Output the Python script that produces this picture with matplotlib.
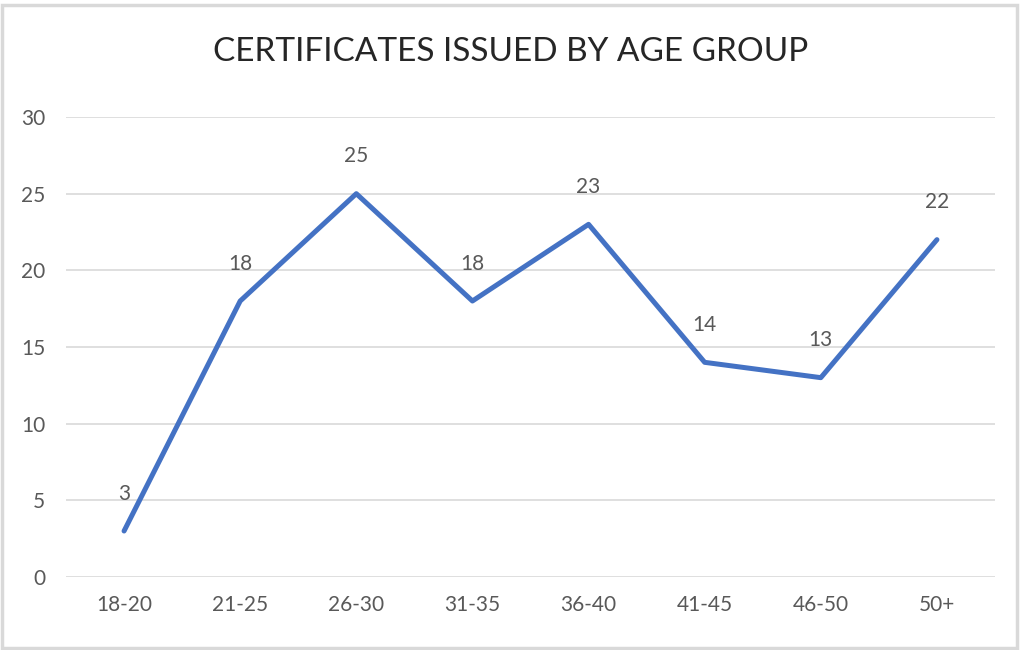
import matplotlib
matplotlib.use("Agg")
import matplotlib.pyplot as plt
from matplotlib.patches import Rectangle

categories = ["18-20", "21-25", "26-30", "31-35", "36-40", "41-45", "46-50", "50+"]
values = [3, 18, 25, 18, 23, 14, 13, 22]
yticks = [0, 5, 10, 15, 20, 25, 30]
title = "CERTIFICATES ISSUED BY AGE GROUP"

plt.rcParams['font.family'] = ['Lato', 'DejaVu Sans']
text_color = "#595959"

fig = plt.figure(figsize=(10.24, 6.5), dpi=100)
W, H = 1024, 650
ax = fig.add_axes([66 / W, 1 - 577 / H, (995 - 66) / W, (577 - 117) / H])

x = list(range(len(categories)))
ax.plot(x, values, color="#4472C4", linewidth=3.6, solid_capstyle="round", solid_joinstyle="round", zorder=3)
for xi, v in zip(x, values):
    ax.annotate(str(v), (xi, v), xytext=(0, 27), textcoords="offset points",
                ha="center", va="center", fontsize=15, color=text_color, zorder=4)

ax.set_xlim(-0.5, len(categories) - 0.5)
ax.set_ylim(0, 30)
ax.set_yticks(yticks)
ax.set_xticks(x)
ax.set_xticklabels(categories)
ax.tick_params(axis="both", length=0, labelsize=15, colors=text_color)
ax.tick_params(axis="y", pad=15)
ax.tick_params(axis="x", pad=13)
ax.grid(axis="y", color="#d9d9d9", linewidth=1.2)
ax.set_axisbelow(True)
for s in ax.spines.values():
    s.set_visible(False)

fig.text(511 / W, 1 - 52 / H, title, ha="center", va="center", fontsize=24, color="#262626")

fig.patches.append(Rectangle((1.5 / W, 2.5 / H), (1018 - 3) / W, (647 - 4) / H,
                             transform=fig.transFigure, fill=False, edgecolor="#d9d9d9", linewidth=2.5))

fig.savefig("out.png", dpi=100)
